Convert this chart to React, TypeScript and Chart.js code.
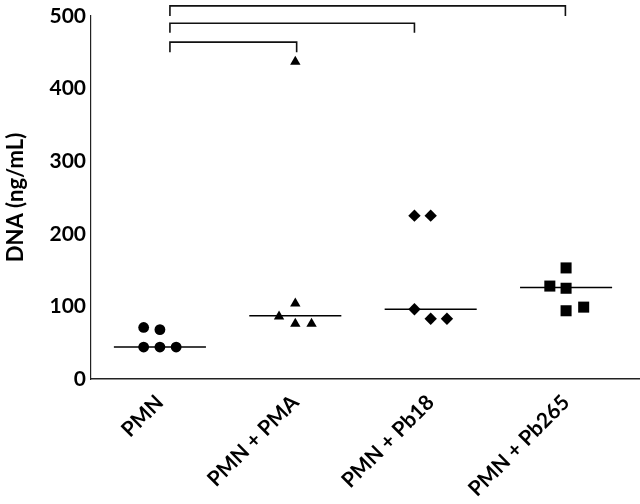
import React, { useEffect, useRef } from "react";
import { Chart, registerables } from "chart.js";

Chart.register(...registerables);

const categories = ["PMN", "PMN + PMA", "PMN + Pb18", "PMN + Pb265"];

// values (ng/mL) per group and horizontal jitter (in category units) as seen in the figure
const pmnValues = [71, 68, 44, 44, 44];
const pmnJitter = [-0.12, 0, -0.12, 0, 0.12];
const pmaValues = [437, 104, 86, 76, 76];
const pmaJitter = [0, 0, -0.12, 0, 0.12];
const pb18Values = [225, 225, 96, 83, 83];
const pb18Jitter = [-0.12, 0, -0.12, 0, 0.12];
const pb265Values = [153, 128, 125, 94, 99];
const pb265Jitter = [0, -0.12, 0, 0, 0.13];

const medians = [44, 87, 96, 126];

const yTicks = [0, 100, 200, 300, 400, 500];

// significance brackets: start/end category positions, bar level, tick bottom level
const bracketStart = [1.074, 1.074, 1.074];
const bracketEnd = [2.01, 2.88, 3.995];
const bracketTop = [464, 490, 514];
const bracketBottom = [450, 477, 500];

const FONT = "Lato, 'Open Sans', 'DejaVu Sans', sans-serif";

function pts(values: number[], jitter: number[], idx: number) {
  return values.map((v, i) => ({ x: idx + 1 + jitter[i], y: v }));
}

const bracketPlugin = {
  id: "brackets",
  afterDatasetsDraw(chart: any) {
    const { ctx, scales } = chart;
    const xs = scales.x;
    const ys = scales.y;
    ctx.save();
    ctx.strokeStyle = "#111";
    ctx.lineWidth = 1.6;
    ctx.lineCap = "butt";
    for (let i = 0; i < bracketStart.length; i++) {
      const x1 = xs.getPixelForValue(bracketStart[i]);
      const x2 = xs.getPixelForValue(bracketEnd[i]);
      const yt = ys.getPixelForValue(bracketTop[i]);
      const yb = ys.getPixelForValue(bracketBottom[i]);
      ctx.beginPath();
      ctx.moveTo(x1, yb);
      ctx.lineTo(x1, yt);
      ctx.lineTo(x2, yt);
      ctx.lineTo(x2, yb);
      ctx.stroke();
    }
    ctx.restore();
  },
};

export default function App() {
  const ref = useRef<HTMLCanvasElement | null>(null);

  useEffect(() => {
    if (!ref.current) return;
    const groups = [
      { values: pmnValues, jitter: pmnJitter, style: "circle", r: 5.4 },
      { values: pmaValues, jitter: pmaJitter, style: "triangle", r: 6 },
      { values: pb18Values, jitter: pb18Jitter, style: "rectRot", r: 6.2 },
      { values: pb265Values, jitter: pb265Jitter, style: "rect", r: 7.8 },
    ];
    const scatterSets = groups.map((g, i) => ({
      type: "scatter" as const,
      label: categories[i],
      data: pts(g.values, g.jitter, i),
      pointStyle: g.style,
      pointRadius: g.r,
      pointBackgroundColor: "#000",
      pointBorderColor: "#000",
      pointBorderWidth: 0,
      showLine: false,
    }));
    const medianSets = medians.map((m, i) => ({
      type: "line" as const,
      label: "median " + categories[i],
      data: [
        { x: i + 1 - 0.34, y: m },
        { x: i + 1 + 0.34, y: m },
      ],
      borderColor: "#000",
      borderWidth: 1.5,
      pointRadius: 0,
      fill: false,
    }));

    const chart = new Chart(ref.current, {
      type: "scatter",
      data: { datasets: [...medianSets, ...scatterSets] as any },
      plugins: [bracketPlugin],
      options: {
        animation: false,
        responsive: false,
        devicePixelRatio: 1,
        layout: { autoPadding: false, padding: { top: 16, right: 0, left: 0, bottom: 0 } },
        plugins: { legend: { display: false }, tooltip: { enabled: false } },
        scales: {
          x: {
            type: "linear",
            min: 0.491,
            max: 4.546,
            afterBuildTicks: (scale: any) => {
              scale.ticks = categories.map((_, i) => ({ value: i + 1 }));
            },
            afterFit: (scale: any) => {
              scale.height = 125;
              scale.paddingLeft = 0;
              scale.paddingRight = 0;
            },
            grid: { display: false, drawTicks: false },
            border: { display: true, color: "#222", width: 1.6 },
            ticks: {
              autoSkip: false,
              minRotation: 45,
              maxRotation: 45,
              padding: 11,
              color: "#000",
              font: { family: FONT, size: 21, weight: "bold" },
              callback: (v: any) => categories[Math.round(Number(v)) - 1] ?? "",
            },
          },
          y: {
            type: "linear",
            min: 0,
            max: 500,
            afterBuildTicks: (scale: any) => {
              scale.ticks = yTicks.map((v) => ({ value: v }));
            },
            afterFit: (scale: any) => {
              scale.width = 91;
              scale.paddingTop = 0;
              scale.paddingBottom = 0;
            },
            grid: { display: false, drawTicks: false },
            border: { display: true, color: "#222", width: 1.2 },
            ticks: {
              padding: 5,
              color: "#000",
              font: { family: FONT, size: 21, weight: "bold" },
            },
            title: {
              display: true,
              text: "DNA (ng/mL)",
              color: "#000",
              font: { family: FONT, size: 22, weight: "bold" },
              padding: { top: 3, bottom: 4 },
            },
          },
        },
      } as any,
    });
    return () => chart.destroy();
  }, []);

  return (
    <div style={{ position: "absolute", left: 0, top: 0, width: 640, height: 504, background: "#fff" }}>
      <canvas ref={ref} width={640} height={504} style={{ width: 640, height: 504, display: "block" }} />
    </div>
  );
}
